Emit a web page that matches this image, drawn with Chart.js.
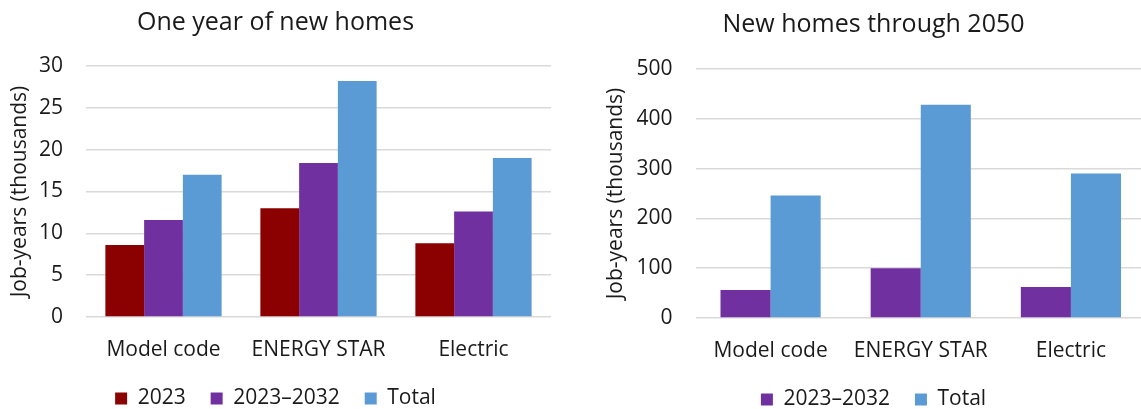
<!DOCTYPE html>
<html>
<head>
<meta charset="utf-8">
<script src="https://cdn.jsdelivr.net/npm/chart.js"></script>
<style>
  html, body { margin: 0; padding: 0; background: #fff; overflow: hidden; }
  body { width: 1141px; height: 409px; position: relative; }
  #leftChart { position: absolute; left: 0; top: 0; }
  #rightChart { position: absolute; left: 570px; top: 0; }
</style>
</head>
<body>
<canvas id="leftChart" width="570" height="409"></canvas>
<canvas id="rightChart" width="576" height="409"></canvas>
<script>
// categories and series (job-years, thousands)
const categories = ["Model code", "ENERGY STAR", "Electric"];

const oneYear2023 = [8.6, 13.0, 8.8];
const oneYear2032 = [11.6, 18.4, 12.6];
const oneYearTotal = [17.0, 28.2, 19.0];

const thru2050_2032 = [56, 100, 62];
const thru2050Total = [246, 428, 290];

const leftTicks = [0, 5, 10, 15, 20, 25, 30];
const rightTicks = [0, 100, 200, 300, 400, 500];

const seriesNames = ["2023", "2023\u20132032", "Total"];
const red = "#8B0000";
const purple = "#7030A0";
const blue = "#5B9BD5";

const fontFam = "'Open Sans', sans-serif";
const textCol = "#1a1a1a";

function makeOptions(titleText, ticks, pad, titlePad, axisTitlePad, xHeight, catPct, axisWidth) {
  return {
    responsive: false,
    animation: false,
    layout: { padding: pad },
    plugins: {
      title: {
        display: true,
        text: titleText,
        color: textCol,
        font: { family: fontFam, size: 25, weight: "normal" },
        padding: titlePad
      },
      legend: {
        position: "bottom",
        labels: {
          boxWidth: 12,
          boxHeight: 12,
          padding: 25,
          color: textCol,
          font: { family: fontFam, size: 21 }
        }
      },
      tooltip: { enabled: false }
    },
    datasets: { bar: { categoryPercentage: catPct, barPercentage: 1 } },
    scales: {
      x: {
        grid: { display: false, drawTicks: false },
        border: { display: false },
        ticks: { color: textCol, padding: 20, font: { family: fontFam, size: 21 } },
        afterFit: (s) => { s.height = xHeight; }
      },
      y: {
        min: ticks[0],
        max: ticks[ticks.length - 1],
        afterBuildTicks: (s) => { s.ticks = ticks.map(v => ({ value: v })); },
        grid: { color: "#d9d9d9", lineWidth: 1.5, drawTicks: false },
        border: { display: false },
        ticks: { color: textCol, padding: 23, font: { family: fontFam, size: 21 } },
        title: {
          display: true,
          text: "Job-years (thousands)",
          color: textCol,
          font: { family: fontFam, size: 21 },
          padding: axisTitlePad
        },
        afterFit: (s) => { s.width = axisWidth; }
      }
    }
  };
}

new Chart(document.getElementById("leftChart"), {
  type: "bar",
  data: {
    labels: categories,
    datasets: [
      { label: seriesNames[0], data: oneYear2023, backgroundColor: red },
      { label: seriesNames[1], data: oneYear2032, backgroundColor: purple },
      { label: seriesNames[2], data: oneYearTotal, backgroundColor: blue }
    ]
  },
  options: makeOptions("One year of new homes", leftTicks,
    { left: 0, right: 19, top: 0, bottom: -10 }, { top: 8, bottom: 28 },
    { top: 7, bottom: 0 }, 46, 0.75, 86)
});

new Chart(document.getElementById("rightChart"), {
  type: "bar",
  data: {
    labels: categories,
    datasets: [
      { label: seriesNames[1], data: thru2050_2032, backgroundColor: purple },
      { label: seriesNames[2], data: thru2050Total, backgroundColor: blue }
    ]
  },
  options: makeOptions("New homes through 2050", rightTicks,
    { left: 31, right: 0, top: 0, bottom: -11 }, { top: 10, bottom: 29 },
    { top: 2, bottom: 0 }, 46, 0.667, 94.5)
});
</script>
</body>
</html>
